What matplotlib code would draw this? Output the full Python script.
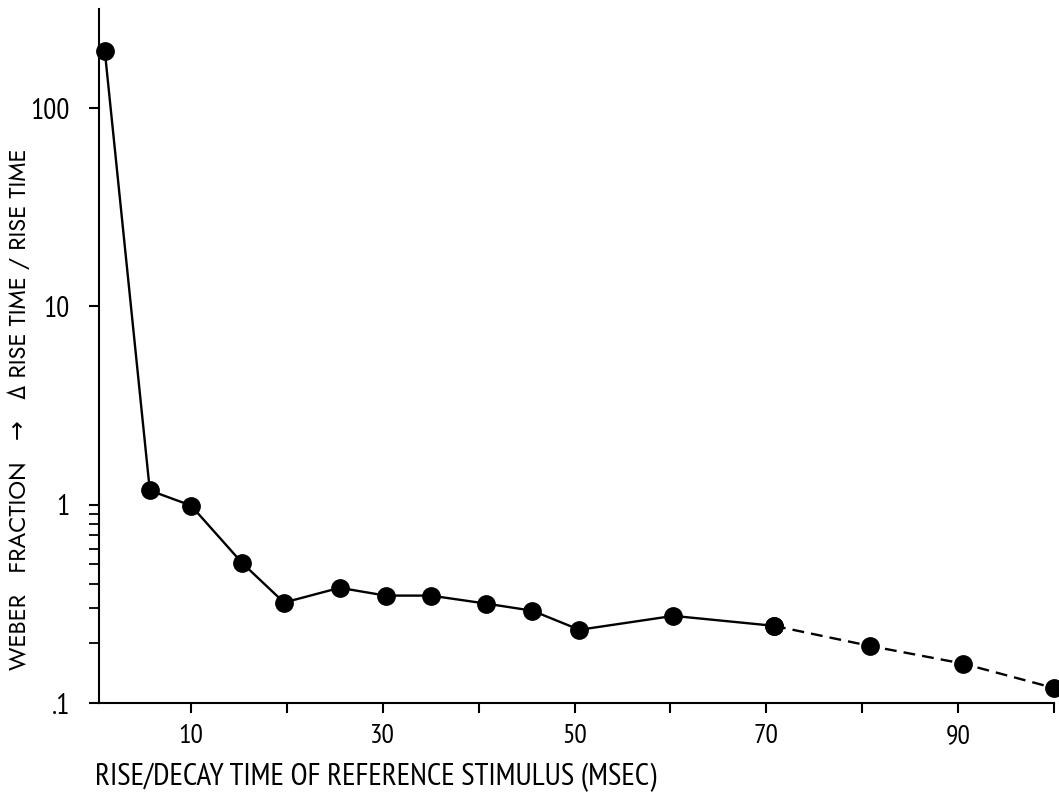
import matplotlib
matplotlib.use("Agg")
import matplotlib.pyplot as plt
from matplotlib import font_manager as fm
from matplotlib.ticker import FixedLocator, FixedFormatter, NullFormatter

# ---- data ----
rise_time = [1, 5.7, 10, 15.3, 19.7, 25.5, 30.3, 35, 40.8, 45.6, 50.5, 60.3, 70.8, 80.8, 90.5, 100]
weber = [195, 1.18, 0.99, 0.51, 0.321, 0.381, 0.348, 0.348, 0.317, 0.292, 0.234, 0.275, 0.245, 0.194, 0.158, 0.119]
n_solid = 13  # points joined by the solid line (through ~70 ms); rest dashed

x_ticks_major = [10, 20, 30, 40, 50, 60, 70, 80, 90, 100]
x_tick_labels = ["10", "", "30", "", "50", "", "70", "", "90", ""]
y_ticks_major = [0.1, 1, 10, 100]
y_tick_labels = [".1", "1", "10", "100"]
y_ticks_minor = [0.2, 0.3, 0.4, 0.5, 0.6, 0.7, 0.8, 0.9]

x_label = "RISE/DECAY TIME OF REFERENCE STIMULUS (MSEC)"
y_label = "WEBER   FRACTION   \u2192   \u0394 RISE TIME / RISE TIME"

avail = {f.name for f in fm.fontManager.ttflist}


def pick(cands):
    for c in cands:
        if c in avail:
            return c
    return "DejaVu Sans"


narrow = pick(["PT Sans Narrow", "Roboto Condensed", "Archivo Narrow",
               "Fira Sans Condensed", "Liberation Sans Narrow"])
geo = pick(["Jost", "Poppins", "Questrial", "Didact Gothic"])

W, H = 1059, 793
fig = plt.figure(figsize=(W / 100, H / 100), dpi=100)
ax = fig.add_axes([99 / W, (H - 703) / H, (1054 - 99) / W, (703 - 9) / H])

ax.plot(rise_time[:n_solid], weber[:n_solid], color="black", lw=1.7,
        marker="o", ms=12.5, clip_on=False, zorder=3)
ax.plot(rise_time[n_solid - 1:], weber[n_solid - 1:], color="black", lw=1.7,
        ls=(0, (5, 3)), marker="o", ms=12.5, clip_on=False, zorder=3)

ax.set_yscale("log")
ax.set_xlim(0.4, 100)
ax.set_ylim(0.1, 316)

ax.xaxis.set_major_locator(FixedLocator(x_ticks_major))
ax.xaxis.set_major_formatter(FixedFormatter(x_tick_labels))
ax.yaxis.set_major_locator(FixedLocator(y_ticks_major))
ax.yaxis.set_major_formatter(FixedFormatter(y_tick_labels))
ax.yaxis.set_minor_locator(FixedLocator(y_ticks_minor))
ax.yaxis.set_minor_formatter(NullFormatter())
ax.xaxis.set_minor_formatter(NullFormatter())

for s in ["top", "right"]:
    ax.spines[s].set_visible(False)
for s in ["left", "bottom"]:
    ax.spines[s].set_linewidth(1.5)

ax.tick_params(axis="x", which="major", direction="out", length=7, width=1.5, pad=8,
               labelsize=20, labelfontfamily=narrow)
ax.tick_params(axis="x", which="minor", bottom=False)
ax.tick_params(axis="y", which="major", direction="out", length=7, width=1.5, pad=14,
               labelsize=21, labelfontfamily=narrow)
ax.tick_params(axis="y", which="minor", direction="out", length=7, width=1.3)

xl = fig.text(95 / W, 1 - 777 / H, x_label, ha="left", va="center",
              fontsize=20, family=narrow)
yl = fig.text(19 / W, 1 - 409 / H, y_label, ha="center", va="center",
              rotation=90, fontsize=13, family=[geo, "DejaVu Sans"],
              fontweight="medium")

# fit label lengths to the reference extents
r = fig.canvas.get_renderer()
w = xl.get_window_extent(r).width
xl.set_fontsize(20 * 560 / w)
h = yl.get_window_extent(r).height
yl.set_fontsize(13 * 522 / h)

fig.savefig("out.png", dpi=100)
